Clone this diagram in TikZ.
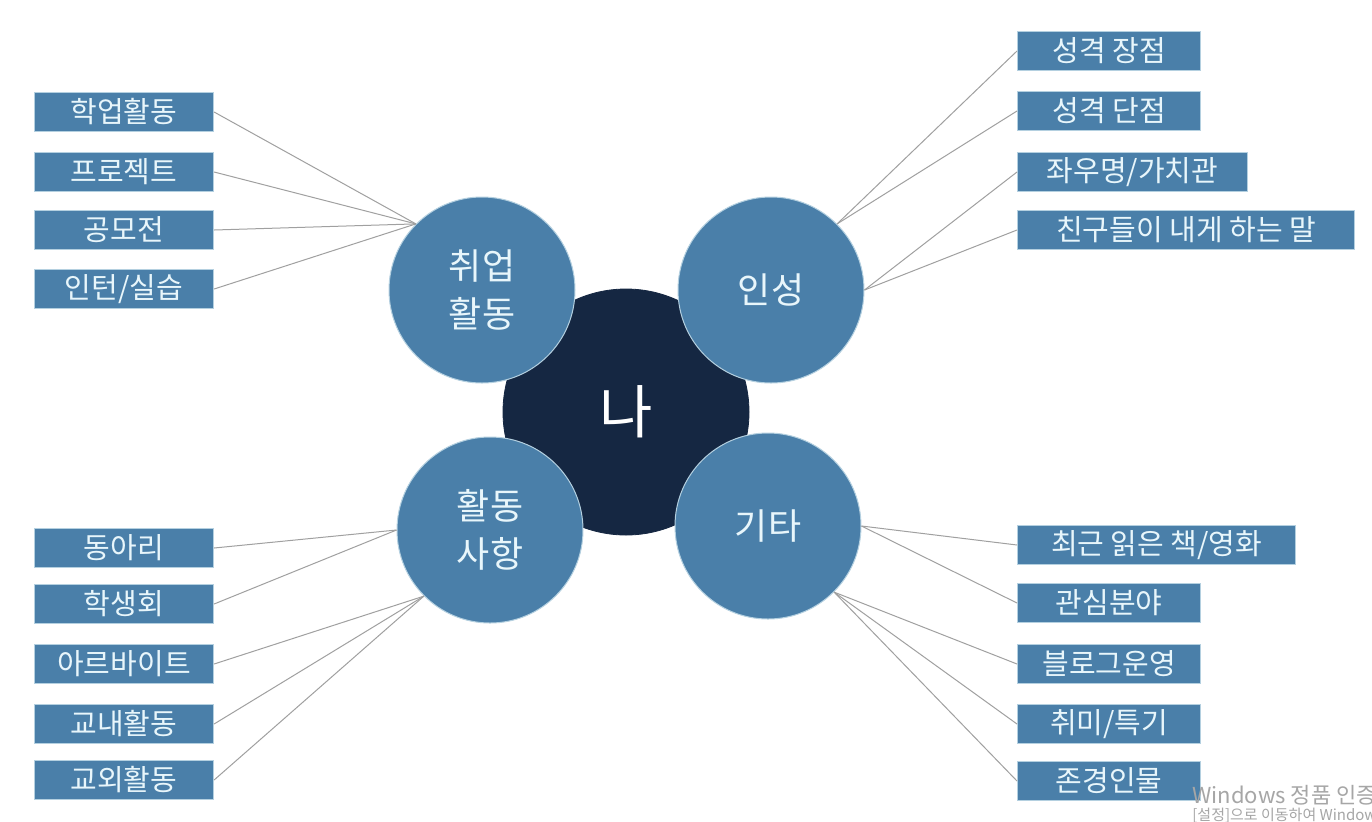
\documentclass[tikz,border=0pt]{standalone}
\usepackage{fontspec}
\setmainfont{Noto Sans CJK KR}
\usepackage{tikz}
\usetikzlibrary{positioning}

\definecolor{steel}{HTML}{4A7FA9}
\definecolor{navy}{HTML}{152742}
\definecolor{rim}{HTML}{B4D0E0}
\definecolor{pale}{HTML}{E8F6FB}
\definecolor{wire}{HTML}{A0A0A0}
\definecolor{mark}{HTML}{A6A6A6}

\begin{document}
\begin{tikzpicture}[
    x=0.5pt, y=-0.5pt,
    core/.style={circle, fill=navy, draw=navy, minimum size=123pt, text=white, font=\fontsize{29}{32}\selectfont},
    topic/.style={circle, fill=steel, draw=rim, line width=0.5pt, minimum size=93pt, align=center, text=pale, font=\fontsize{18}{24}\selectfont},
    item/.style={rectangle, fill=steel, draw=rim, line width=0.6pt, minimum width=89.5pt, minimum height=19.5pt, inner xsep=3pt, inner ysep=0pt, text=pale, font=\fontsize{14.5}{16}\selectfont},
    ritem/.style={item, anchor=west, minimum width=91.5pt},
    link/.style={draw=wire, line width=0.5pt},
]

\useasboundingbox[fill=white] (0,0) rectangle (1372,821);

% ========== BOXES ==========
% upper left
\node[item] (study)   at (124, 112) {학업활동};
\node[item] (project) at (124, 172) {프로젝트};
\node[item] (contest) at (124, 230) {공모전};
\node[item] (intern)  at (124, 289) {인턴/실습};

% upper right
\node[ritem] (merit)   at (1017, 51)  {성격 장점};
\node[ritem] (fault)   at (1017, 111) {성격 단점};
\node[ritem, minimum width=115pt]   (motto)   at (1017, 172) {좌우명/가치관};
\node[ritem, minimum width=168.5pt] (friends) at (1017, 230) {친구들이 내게 하는 말};

% lower left
\node[item] (club)      at (124, 548) {동아리};
\node[item] (council)   at (124, 604) {학생회};
\node[item] (parttime)  at (124, 664) {아르바이트};
\node[item] (oncampus)  at (124, 724) {교내활동};
\node[item] (offcampus) at (124, 780) {교외활동};

% lower right
\node[ritem, minimum width=139pt] (reading) at (1017, 545) {최근 읽은 책/영화};
\node[ritem] (interest)  at (1017, 603) {관심분야};
\node[ritem] (blog)      at (1017, 664) {블로그운영};
\node[ritem] (hobby)     at (1017, 724) {취미/특기};
\node[ritem] (rolemodel) at (1017, 781) {존경인물};

% ========== CIRCLES ==========
\node[core] (me) at (626, 412) {나};

\node[topic] (jobs)  at (482, 290) {취업\\활동};
\node[topic] (trait) at (771, 290) {인성};
\node[topic] (acts)  at (490, 530) {활동\\사항};
\node[topic] (misc)  at (768, 526) {기타};

% ========== LINKS ==========
\draw[link] (study.east)   -- (jobs.135);
\draw[link] (project.east) -- (jobs.135);
\draw[link] (contest.east) -- (jobs.135);
\draw[link] (intern.east)  -- (jobs.135);

\draw[link] (merit.west)   -- (trait.45);
\draw[link] (fault.west)   -- (trait.45);
\draw[link] (motto.west)   -- (trait.0);
\draw[link] (friends.west) -- (trait.0);

\draw[link] (club.east)      -- (acts.180);
\draw[link] (council.east)   -- (acts.180);
\draw[link] (parttime.east)  -- (acts.225);
\draw[link] (oncampus.east)  -- (acts.225);
\draw[link] (offcampus.east) -- (acts.225);

\draw[link] (reading.west)   -- (misc.0);
\draw[link] (interest.west)  -- (misc.0);
\draw[link] (blog.west)      -- (misc.315);
\draw[link] (hobby.west)     -- (misc.315);
\draw[link] (rolemodel.west) -- (misc.315);

% watermark
\node[anchor=west, text=mark, font=\fontsize{11}{13}\selectfont, inner sep=0pt] (winmark) at (1192, 795) {Windows 정품 인증};
\node[anchor=west, text=mark, font=\fontsize{7.5}{9}\selectfont, inner sep=0pt] (winhint) at (1192, 815) {[설정]으로 이동하여 Windows를 정품 인증합니다.};

\end{tikzpicture}
\end{document}
